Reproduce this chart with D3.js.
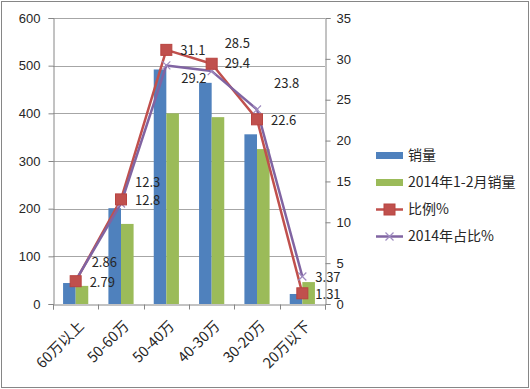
<!DOCTYPE html>
<html lang="zh">
<head>
<meta charset="UTF-8" />
<title>价格区间销量</title>
<script src="https://d3js.org/d3.v7.min.js"></script>
<style>
  body { margin: 0; background: #fff; }
  svg { display: block; font-family: "Noto Sans CJK SC", "Noto Sans", sans-serif; }
</style>
</head>
<body>
<div id="chart"></div>
<script>
  // data
  const categories = ["60万以上", "50-60万", "50-40万", "40-30万", "30-20万", "20万以下"];
  const sales = [44, 201, 492, 464, 356, 21];
  const sales2014 = [38, 168, 400, 392, 325, 46];
  const ratio = [2.79, 12.8, 31.1, 29.4, 22.6, 1.31];
  const ratio2014 = [2.86, 12.3, 29.2, 28.5, 23.8, 3.37];
  const leftTicks = [0, 100, 200, 300, 400, 500, 600];
  const rightTicks = [0, 5, 10, 15, 20, 25, 30, 35];

  // label nudges [dx, dy] per point, by hand
  const ratioNudge = [[14, 1], [14, 1], [14, 1], [13, 0], [14, 1], [13, 1]];
  const ratio2014Nudge = [[16, -18], [14, -21], [15, 13], [13, -28], [17, -26], [13, 1]];

  const W = 530, H = 389;
  const m = { left: 53, right: 205, top: 18, bottom: 85 };

  const svg = d3.select("#chart").append("svg")
    .attr("width", W).attr("height", H);

  svg.append("rect")
    .attr("x", 1.5).attr("y", 1.5)
    .attr("width", W - 3).attr("height", H - 3)
    .attr("fill", "#fff").attr("stroke", "#868686");

  const x = d3.scaleBand().domain(categories).range([m.left, W - m.right]);
  const y = d3.scaleLinear().domain([0, 600]).range([H - m.bottom, m.top]);
  const y2 = d3.scaleLinear().domain([0, 35]).range([H - m.bottom, m.top]);
  const inner = d3.scaleBand().domain(["a", "b"]).range([0, x.bandwidth()]).paddingOuter(0.8).paddingInner(0);

  // gridlines
  svg.append("g")
    .selectAll("line")
    .data(leftTicks.slice(1))
    .join("line")
    .attr("x1", m.left).attr("x2", W - m.right)
    .attr("y1", d => Math.round(y(d)) + 0.5).attr("y2", d => Math.round(y(d)) + 0.5)
    .attr("stroke", "#a6a6a6");

  // axes
  const textColor = "#262626";
  const left = svg.append("g")
    .attr("transform", `translate(${m.left + 0.5},0)`)
    .call(d3.axisLeft(y).tickValues(leftTicks).tickSize(5).tickPadding(8));
  const right = svg.append("g")
    .attr("transform", `translate(${W - m.right + 0.5},0)`)
    .call(d3.axisRight(y2).tickValues(rightTicks).tickSize(5).tickPadding(6));
  const bottom = svg.append("g")
    .attr("transform", `translate(0,${Math.round(y(0)) + 0.5})`)
    .call(d3.axisBottom(x).tickSize(5).tickFormat(""));
  bottom.selectAll(".tick").remove();
  bottom.selectAll("line.t")
    .data(d3.range(categories.length + 1))
    .join("line")
    .attr("x1", i => Math.round(m.left + i * x.step()) + 0.5)
    .attr("x2", i => Math.round(m.left + i * x.step()) + 0.5)
    .attr("y1", 0).attr("y2", 5)
    .attr("stroke", "#868686");

  for (const g of [left, right, bottom]) {
    g.selectAll("path, line").attr("stroke", "#868686");
    g.selectAll("text").attr("fill", textColor).style("font-size", "13px");
  }

  // x labels
  svg.append("g")
    .selectAll("text")
    .data(categories)
    .join("text")
    .attr("transform", d => `translate(${x(d) + x.bandwidth() / 2 + 9},${y(0) + 23}) rotate(-45)`)
    .attr("text-anchor", "end")
    .attr("fill", textColor)
    .style("font-size", "14.5px")
    .text(d => d);

  // bars
  const bars = svg.append("g");
  bars.selectAll("rect.s")
    .data(sales)
    .join("rect")
    .attr("x", (d, i) => x(categories[i]) + inner("a"))
    .attr("y", d => y(d))
    .attr("width", inner.bandwidth())
    .attr("height", d => y(0) - y(d))
    .attr("fill", "#4f81bd");
  bars.selectAll("rect.g")
    .data(sales2014)
    .join("rect")
    .attr("x", (d, i) => x(categories[i]) + inner("b"))
    .attr("y", d => y(d))
    .attr("width", inner.bandwidth())
    .attr("height", d => y(0) - y(d))
    .attr("fill", "#9bbb59");

  const cx = (d, i) => x(categories[i]) + x.bandwidth() / 2;
  const line = d3.line().x((d, i) => cx(d, i)).y(d => y2(d));

  // red line with squares
  svg.append("path")
    .datum(ratio)
    .attr("d", line)
    .attr("fill", "none")
    .attr("stroke", "#c0504d")
    .attr("stroke-width", 2.5)
    .attr("stroke-linejoin", "round");

  // purple line with crosses
  svg.append("path")
    .datum(ratio2014)
    .attr("d", line)
    .attr("fill", "none")
    .attr("stroke", "#8064a2")
    .attr("stroke-width", 2.5)
    .attr("stroke-linejoin", "round");

  svg.append("g")
    .selectAll("path")
    .data(ratio2014)
    .join("path")
    .attr("d", (d, i) => {
      const px = cx(d, i), py = y2(d), r = 4;
      return `M${px - r},${py - r}L${px + r},${py + r}M${px - r},${py + r}L${px + r},${py - r}`;
    })
    .attr("stroke", "#9f8cc0")
    .attr("stroke-width", 1.2);

  svg.append("g")
    .selectAll("rect")
    .data(ratio)
    .join("rect")
    .attr("x", (d, i) => cx(d, i) - 5.5)
    .attr("y", d => y2(d) - 5.5)
    .attr("width", 11).attr("height", 11)
    .attr("fill", "#c0504d")
    .attr("stroke", "#b84440")
    .attr("stroke-width", 1);

  // data labels
  const labels = svg.append("g")
    .attr("fill", textColor)
    .style("font-size", "13px");
  labels.selectAll("text.r")
    .data(ratio)
    .join("text")
    .attr("x", (d, i) => cx(d, i) + ratioNudge[i][0])
    .attr("y", (d, i) => y2(d) + ratioNudge[i][1])
    .attr("dy", "0.35em")
    .text(d => d);
  labels.selectAll("text.p")
    .data(ratio2014)
    .join("text")
    .attr("x", (d, i) => cx(d, i) + ratio2014Nudge[i][0])
    .attr("y", (d, i) => y2(d) + ratio2014Nudge[i][1])
    .attr("dy", "0.35em")
    .text(d => d);

  // legend
  const legendItems = [
    { name: "销量", type: "bar", color: "#4f81bd" },
    { name: "2014年1-2月销量", type: "bar", color: "#9bbb59" },
    { name: "比例%", type: "square", color: "#c0504d" },
    { name: "2014年占比%", type: "cross", color: "#8064a2" }
  ];
  const lg = svg.append("g").attr("transform", "translate(376,155)");
  const item = lg.selectAll("g")
    .data(legendItems)
    .join("g")
    .attr("transform", (d, i) => `translate(0,${i * 27})`);
  item.filter(d => d.type === "bar").append("rect")
    .attr("x", 0).attr("y", -3).attr("width", 27).attr("height", 7)
    .attr("fill", d => d.color);
  item.filter(d => d.type !== "bar").append("line")
    .attr("x1", 0).attr("x2", 27).attr("y1", 0.5).attr("y2", 0.5)
    .attr("stroke", d => d.color).attr("stroke-width", 2.5);
  item.filter(d => d.type === "square").append("rect")
    .attr("x", 8).attr("y", -5).attr("width", 11).attr("height", 11)
    .attr("fill", "#c0504d").attr("stroke", "#b84440");
  item.filter(d => d.type === "cross").append("path")
    .attr("d", "M9.5,-3.5L17.5,4.5M9.5,4.5L17.5,-3.5")
    .attr("stroke", "#9f8cc0").attr("stroke-width", 1.2);
  item.append("text")
    .attr("x", 32).attr("y", 0)
    .attr("dy", "0.35em")
    .attr("fill", textColor)
    .style("font-size", "14px")
    .text(d => d.name);
</script>
</body>
</html>
